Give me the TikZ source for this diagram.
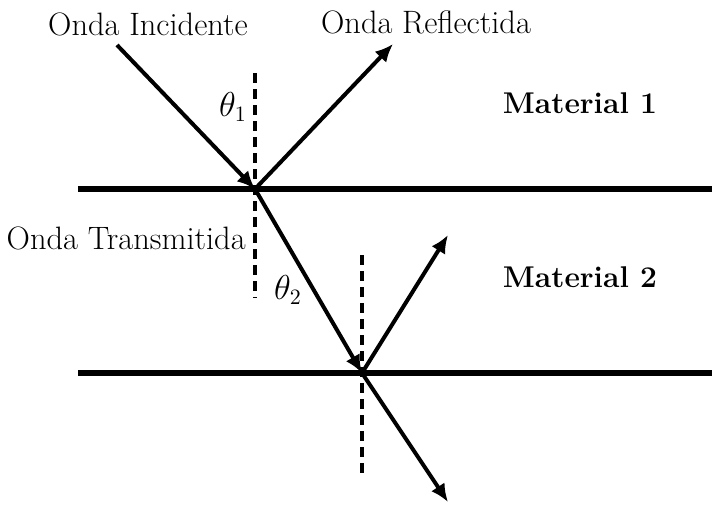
\documentclass[tikz,border=0pt]{standalone}
\usepackage{tikz}
\usetikzlibrary{arrows.meta}

\begin{document}
\begin{tikzpicture}[x=0.5pt,y=0.5pt,>={Latex[length=9pt,width=8pt]},
  interface/.style={line width=2.6pt},
  ray/.style={->,line width=2pt},
  normal/.style={line width=1.6pt,dash pattern=on 5pt off 3pt},
  lbl/.style={font=\fontsize{16.2}{19}\selectfont,inner sep=0pt},
  mat/.style={font=\fontsize{15}{18}\selectfont\bfseries,inner sep=0pt}]
\useasboundingbox (0,0) rectangle (712,511);
\coordinate (P1) at (255,322);
\coordinate (P2) at (362,138);
\coordinate (A1) at (78,322);
\coordinate (B1) at (712,322);
\coordinate (A2) at (78,138);
\coordinate (B2) at (712,138);
\coordinate (inc) at (117,466);
\coordinate (refl) at (393,467);
\coordinate (refl2) at (448,276);
\coordinate (trans2) at (448,9);
\coordinate (N1a) at (255,438);
\coordinate (N1b) at (255,213);
\coordinate (N2a) at (362,256);
\coordinate (N2b) at (362,34);
\draw[interface] (A1) -- (B1);
\draw[interface] (A2) -- (B2);
\draw[normal] (N1a) -- (N1b);
\draw[normal] (N2a) -- (N2b);
\draw[ray] (inc) -- (P1);
\draw[ray] (P1) -- (refl);
\draw[ray] (P1) -- (P2);
\draw[ray] (P2) -- (refl2);
\draw[ray] (P2) -- (trans2);
\node[lbl] (tinc) at (148,487) {Onda Incidente};
\node[lbl] (trefl) at (426,489) {Onda Reflectida};
\node[lbl,anchor=east] (ttrans) at (246,273) {Onda Transmitida};
\node[lbl] (th1) at (233,404) {$\theta_1$};
\node[lbl] (th2) at (288,221) {$\theta_2$};
\node[mat] (m1) at (580,408) {Material 1};
\node[mat] (m2) at (580,234) {Material 2};
\end{tikzpicture}
\end{document}
